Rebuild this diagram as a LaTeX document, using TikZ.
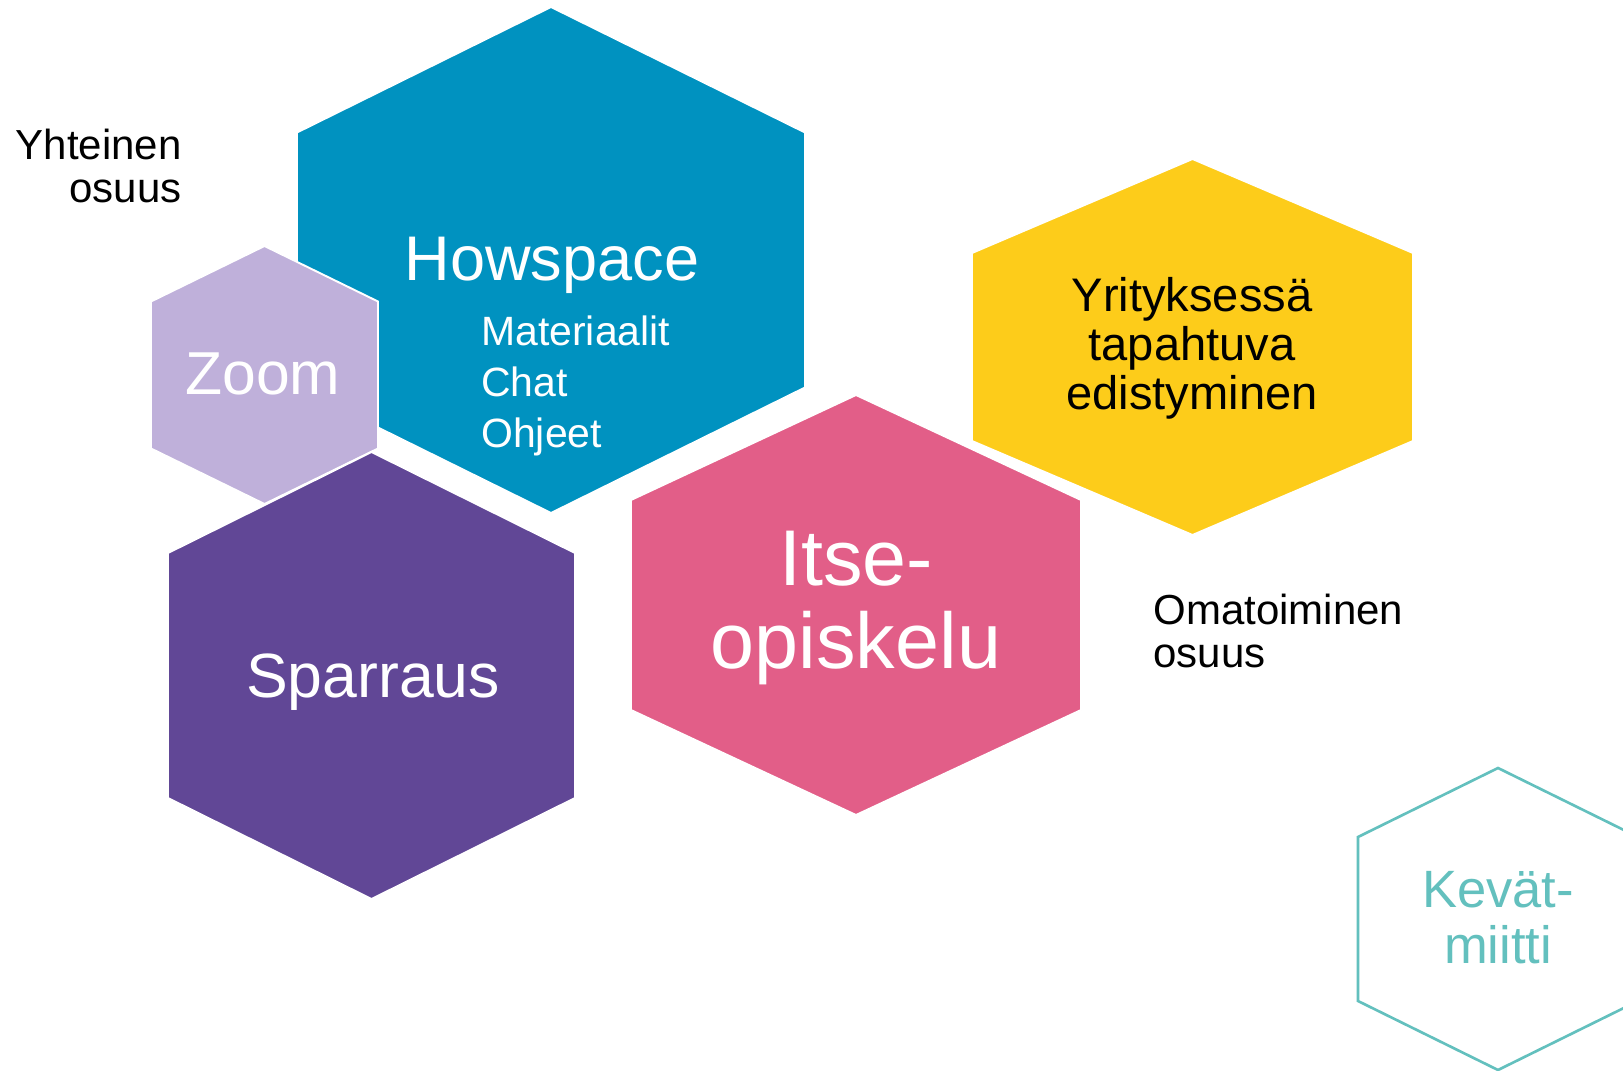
\documentclass[tikz,border=0pt]{standalone}
\usepackage{fontspec}
\setmainfont{Liberation Sans}
\usepackage{tikz}

\definecolor{howblue}{RGB}{0,146,192}
\definecolor{zoomlilac}{RGB}{191,176,218}
\definecolor{sparpurple}{RGB}{97,71,150}
\definecolor{itsepink}{RGB}{226,94,136}
\definecolor{yrityellow}{RGB}{253,204,26}
\definecolor{kevatteal}{RGB}{99,192,190}

\begin{document}
\begin{tikzpicture}[x=0.02cm, y=-0.02cm]
  % hexagon with centre (#1,#2), half width #3, half height #4, half side #5
  \newcommand{\Hexa}[5]{%
    (#1,#2-#4) -- (#1+#3,#2-#5) -- (#1+#3,#2+#5) -- (#1,#2+#4)
    -- (#1-#3,#2+#5) -- (#1-#3,#2-#5) -- cycle%
  }
  \clip (0,0) rectangle (1623,1071);
  \fill[white] (0,0) rectangle (1623,1071);
  \filldraw[fill=howblue, draw=white, line width=1.1pt] \Hexa{551}{260}{254}{253}{127.5};
  \filldraw[fill=zoomlilac, draw=white, line width=1.1pt] \Hexa{264.5}{375}{113.5}{129}{73.5};
  \filldraw[fill=sparpurple, draw=white, line width=1.1pt] \Hexa{371.5}{675.5}{203.5}{223.5}{122.5};
  \filldraw[fill=yrityellow, draw=white, line width=1.1pt] \Hexa{1192.5}{347}{220.5}{188}{94};
  \filldraw[fill=itsepink, draw=white, line width=1.1pt] \Hexa{856}{605}{225}{210}{105};
  \draw[kevatteal, line width=1.5pt] \Hexa{1498}{919}{140}{151}{82};

  \node[anchor=east, inner sep=0, align=right, font=\fontsize{23.9}{24.2}\selectfont]
    (yhteinen) at (182,166) {Yhteinen\\osuus};
  \node[anchor=base, inner sep=0, text=white, font=\fontsize{35.9}{40}\selectfont]
    (howspace) at (552,280) {Howspace};
  \node[anchor=west, inner sep=0, align=left, text=white, font=\fontsize{23.3}{29}\selectfont]
    (howlist) at (481,385.5) {Materiaalit\\Chat\\Ohjeet};
  \node[anchor=base, inner sep=0, text=white, font=\fontsize{34.5}{40}\selectfont]
    (zoom) at (263,394) {Zoom};
  \node[anchor=base, inner sep=0, text=white, font=\fontsize{35.6}{40}\selectfont]
    (sparraus) at (373,697) {Sparraus};
  \node[inner sep=0, align=center, text=white, font=\fontsize{45}{47.2}\selectfont]
    (itse) at (856,608) {Itse-\\opiskelu};
  \node[inner sep=0, align=center, font=\fontsize{26.8}{27.9}\selectfont]
    (yritys) at (1192,348) {Yrityksessä\\tapahtuva\\edistyminen};
  \node[anchor=west, inner sep=0, align=left, font=\fontsize{23.9}{24.5}\selectfont]
    (omatoiminen) at (1153,631) {Omatoiminen\\osuus};
  \node[inner sep=0, align=center, text=kevatteal, font=\fontsize{29.9}{31.9}\selectfont]
    (kevat) at (1498,918) {Kevät-\\miitti};
\end{tikzpicture}
\end{document}
